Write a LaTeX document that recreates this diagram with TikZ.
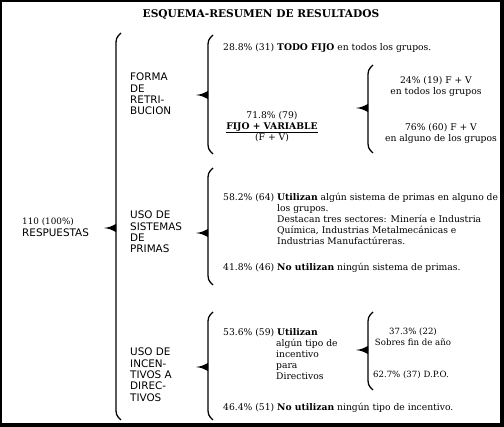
\documentclass[tikz,border=0pt]{standalone}
\usepackage{fontspec}
\setmainfont{DejaVu Serif}
\setsansfont{DejaVu Sans}

\begin{document}
\begin{tikzpicture}[
			x=1pt, y=-1pt,
			txt/.style={anchor=north west, inner sep=0pt, align=left,
			font=\fontsize{9.2}{11}\selectfont},
			ctr/.style={txt, anchor=north, align=center},
			small/.style={ctr, font=\fontsize{8.6}{11}\selectfont},
			lbl/.style={anchor=north west, inner sep=0pt, align=left,
			font=\sffamily\fontsize{10.4}{11.3}\selectfont},
			brk/.style={draw=black, line width=1.3pt},
			tip/.style={fill=black}
			]
			\useasboundingbox (0,0) rectangle (504,427);
			\fill[black] (0,0) rectangle (504,427);
			\fill[white] (2,2) rectangle (500,423);
			\node[font=\bfseries\fontsize{10.6}{13}\selectfont, inner sep=0pt] (title) at (261,15)
				{ESQUEMA-RESUMEN DE RESULTADOS};
			% braces: x / top / bottom / tip
			\foreach \x/\t/\b/\m in {116/33/420/228, 208/35/154/95, 368/65/153/108,
				208/168/285/233, 208/312/420/367, 368/312/390/350}
			{
				\draw[brk] (\x+5,\t) .. controls (\x,\t+5) .. (\x,\t+14)
					-- (\x,\b-14) .. controls (\x,\b-5) .. (\x+5,\b);
				\fill[tip] (\x,\m-4) .. controls (\x-6,\m-1) .. (\x-12,\m)
					.. controls (\x-6,\m+1) .. (\x,\m+4) -- cycle;
			}
			\node[lbl] (resp) at (22,218)
				{{\rmfamily\fontsize{8.8}{11}\selectfont 110 (100\%)}\\RESPUESTAS};
			\node[lbl] (forma) at (130,73) {FORMA\\DE\\RETRI-\\BUCION};
			\node[lbl] (primas) at (130,211) {USO DE\\SISTEMAS\\DE\\PRIMAS};
			\node[lbl] (incent) at (130,348) {USO DE\\INCEN-\\TIVOS A\\DIREC-\\TIVOS};
			% forma de retribucion
			\node[txt] (fijo) at (223,43) {28.8\% (31) \textbf{TODO FIJO} en todos los grupos.};
			\node[ctr] (fv) at (272,111)
				{71.8\% (79)\\\underline{\textbf{FIJO + VARIABLE}}\\(F + V)};
			\node[ctr] (fvtodos) at (436,76) {24\% (19) F + V\\en todos los grupos};
			\node[ctr] (fvalguno) at (441,123) {76\% (60) F + V\\en alguno de los grupos};
			% primas
			\node[txt] (usan) at (223,193)
				{58.2\% (64) \textbf{Utilizan} algún sistema de primas en alguno de};
			\node[txt] (sect) at (277,204) {los grupos.\\Destacan tres sectores: Minería e Industria\\
				Química, Industrias Metalmecánicas e\\Industrias Manufactúreras.};
			\node[txt] (nousan) at (223,263)
				{41.8\% (46) \textbf{No utilizan} ningún sistema de primas.};
			% incentivos
			\node[txt] (usinc) at (223,328) {53.6\% (59) \textbf{Utilizan}};
			\node[txt] (tipo) at (276,339) {algún tipo de\\incentivo\\para\\Directivos};
			\node[txt] (noinc) at (223,403)
				{46.4\% (51) \textbf{No utilizan} ningún tipo de incentivo.};
			\node[small] (sobres) at (413,328) {37.3\% (22)\\Sobres fin de año};
			\node[small] (dpo) at (411,371) {62.7\% (37) D.P.O.};
		\end{tikzpicture}
\end{document}
